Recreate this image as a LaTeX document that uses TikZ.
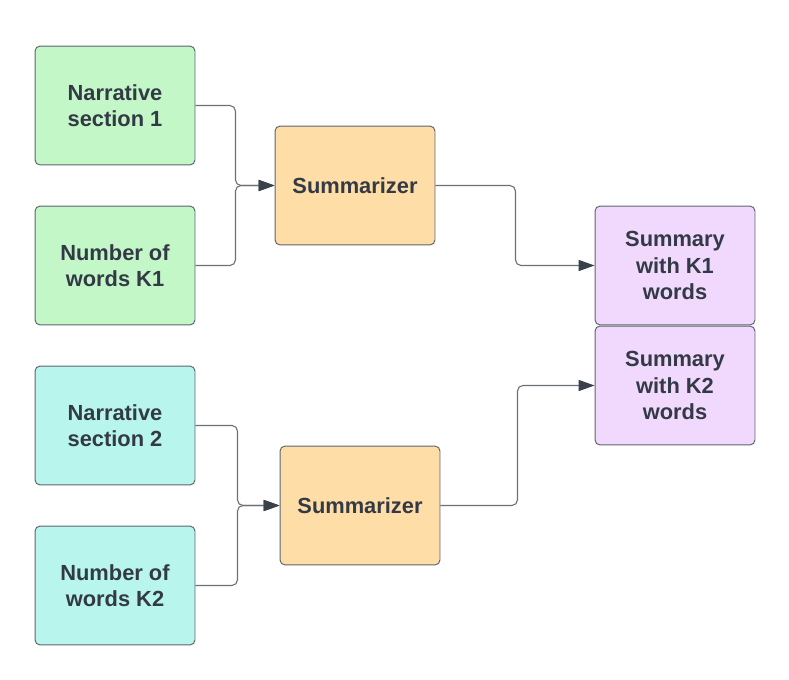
\documentclass[tikz,border=0pt]{standalone}
\usepackage{fontspec}
\setmainfont{Liberation Sans}
\usetikzlibrary{arrows.meta}

\definecolor{lineg}{HTML}{6B6F76}
\definecolor{tipg}{HTML}{3A414A}
\definecolor{textg}{HTML}{333A45}
\definecolor{boxline}{HTML}{5F6570}
\definecolor{greenf}{HTML}{C3F7C8}
\definecolor{cyanf}{HTML}{B8F5ED}
\definecolor{orangef}{HTML}{FFDDA6}
\definecolor{purplef}{HTML}{F1D9FD}

\tikzset{
    block/.style={shape=rectangle, draw=boxline, line width=0.7pt, rounded corners=3.6pt,
        minimum width=4.064cm, minimum height=3.02cm, align=center, text=textg,
        font=\fontsize{15.8}{19}\selectfont\bfseries},
    link/.style={draw=lineg, line width=0.8pt, rounded corners=4pt,
        -{Triangle[length=11.5pt,width=8pt,color=tipg]}}
}

\begin{document}
\begin{tikzpicture}[x=0.0254cm,y=-0.0254cm]
    \useasboundingbox (0,0) rectangle (789,680);

    \node[block,fill=greenf] (narr1) at (115,105.5) {Narrative\\section 1};
    \node[block,fill=greenf] (words1) at (115,265.5) {Number of\\words K1};
    \node[block,fill=orangef] (summ1) at (355,185.5) {Summarizer};
    \node[block,fill=purplef] (out1) at (675,265.5) {Summary\\with K1\\words};

    \node[block,fill=cyanf] (narr2) at (115,425.5) {Narrative\\section 2};
    \node[block,fill=cyanf] (words2) at (115,585.5) {Number of\\words K2};
    \node[block,fill=orangef] (summ2) at (360,505.5) {Summarizer};
    \node[block,fill=purplef] (out2) at (675,385.5) {Summary\\with K2\\words};

    \path [link] (narr1.east) -- ++(40,0) |- (summ1.west);
    \path [link] (words1.east) -- ++(40,0) |- (summ1.west);
    \path [link] (summ1.east) -- ++(80,0) |- (out1.west);

    \path [link] (narr2.east) -- ++(42,0) |- (summ2.west);
    \path [link] (words2.east) -- ++(42,0) |- (summ2.west);
    \path [link] (summ2.east) -- ++(77,0) |- (out2.west);
\end{tikzpicture}
\end{document}
